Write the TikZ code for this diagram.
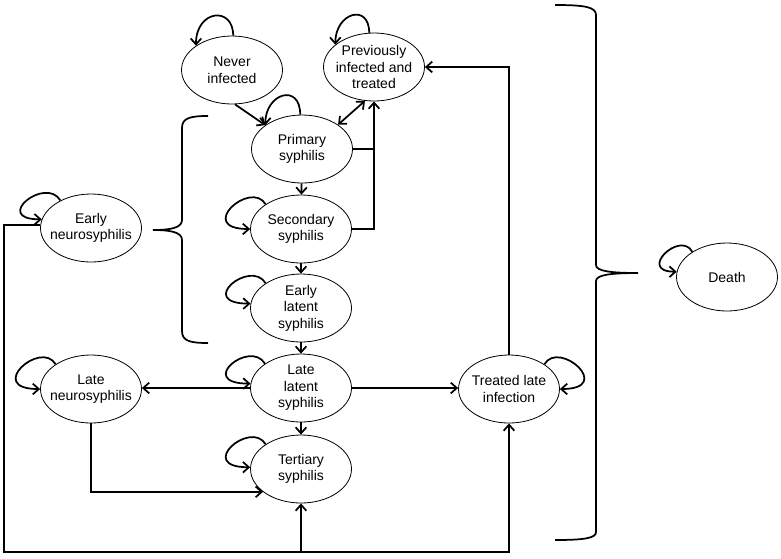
\documentclass[tikz,border=0pt]{standalone}
\usepackage{fontspec}
\setmainfont{Liberation Sans}
\usepackage{tikz}
\usetikzlibrary{shapes.geometric,arrows.meta}

\begin{document}
\begin{tikzpicture}[x=0.75pt, y=-0.75pt,
    state/.style={ellipse, draw, line width=0.6pt, minimum width=75.75pt, minimum height=51pt,
      inner xsep=-10pt, inner ysep=-5pt, align=center, font=\fontsize{10.5}{12.4}\selectfont},
    link/.style={line width=1.3pt},
    arr/.style={link, -{Straight Barb[length=4.5pt,width=8pt]}},
    arrb/.style={link, {Straight Barb[length=4.5pt,width=8pt]}-{Straight Barb[length=4.5pt,width=8pt]}},
    brc/.style={line width=1.3pt}]
  \useasboundingbox (0,0) rectangle (781,558);
  % states
  \node[state] (never)  at (232,70)  {Never\\infected};
  \node[state] (prev)   at (374,67)  {Previously\\infected and\\treated};
  \node[state] (prim)   at (302,149) {Primary\\syphilis};
  \node[state] (sec)    at (301,229) {Secondary\\syphilis};
  \node[state] (elat)   at (301,308) {Early\\latent\\syphilis};
  \node[state] (llat)   at (301,388) {Late\\latent\\syphilis};
  \node[state] (tert)   at (301,469) {Tertiary\\syphilis};
  \node[state] (eneuro) at (91,228)  {Early\\neurosyphilis};
  \node[state] (lneuro) at (91,389)  {Late\\neurosyphilis};
  \node[state] (tlate)  at (509,389) {Treated late\\infection};
  \node[state] (death)  at (727,277) {Death};
  \coordinate (corner) at (4,552);
  % transitions
  \draw[arr] (never.-85) -- (prim.147);
  \draw[arrb] (prev.-105) -- (prim.34);
  \draw[link] (prim.east) -- (prim.east -| prev.south);
  \draw[arr] (sec.east) -| (prev.south);
  \draw[arr] (prim) -- (sec);
  \draw[arr] (sec) -- (elat);
  \draw[arr] (elat) -- (llat);
  \draw[arr] (llat) -- (tert);
  \draw[arr] (llat.west) -- (llat.west -| lneuro.east);
  \draw[arr] (llat.east) -- (llat.east -| tlate.west);
  \draw[arr] (tlate.north) |- (prev.east);
  \draw[arr] (lneuro.south) |- (tert.211);
  \draw[arr] (eneuro.177) -| (corner) -| (tlate.south);
  \draw[arr] (corner -| tert.south) -- (tert.south);
  % staying in the same state
  \draw[arr] (never.88) .. controls +(0,-30) and +(0,-36) .. (never.146);
  \draw[arr] (prev.98) .. controls +(0,-30) and +(0,-32) .. (prev.150);
  \draw[arr] (prim.93) .. controls +(0,-32) and +(0,-32) .. (prim.147);
  \draw[arr] (sec.145) .. controls +(-15,-25) and +(-55,0) .. (sec.180);
  \draw[arr] (elat.145) .. controls +(-15,-25) and +(-55,0) .. (elat.175);
  \draw[arr] (llat.146) .. controls +(-15,-25) and +(-55,0) .. (llat.175);
  \draw[arr] (tert.145) .. controls +(-15,-25) and +(-55,0) .. (tert.178);
  \draw[arr] (lneuro.145) .. controls +(-15,-25) and +(-55,0) .. (lneuro.180);
  \draw[arr] (eneuro.138) .. controls +(-15,-25) and +(-50,0) .. (eneuro.170);
  \draw[arr] (tlate.35) .. controls +(15,-25) and +(55,0) .. (tlate.0);
  \draw[arr] (death.144) .. controls +(-12,-22) and +(-40,0) .. (death.174);
  % braces
  \draw[brc] (208,116) .. controls (190,116) and (182,118) .. (182,128) -- (182,220)
    .. controls (182,228) and (170,230) .. (153,230) .. controls (170,230) and (182,232) .. (182,240)
    -- (182,331) .. controls (182,341) and (190,343) .. (208,343);
  \draw[brc] (555,5) .. controls (585,5) and (596,7) .. (596,15) -- (596,265)
    .. controls (596,271) and (610,273) .. (638,273) .. controls (610,273) and (596,275) .. (596,281)
    -- (596,532) .. controls (596,538) and (585,540) .. (555,540);
\end{tikzpicture}
\end{document}
